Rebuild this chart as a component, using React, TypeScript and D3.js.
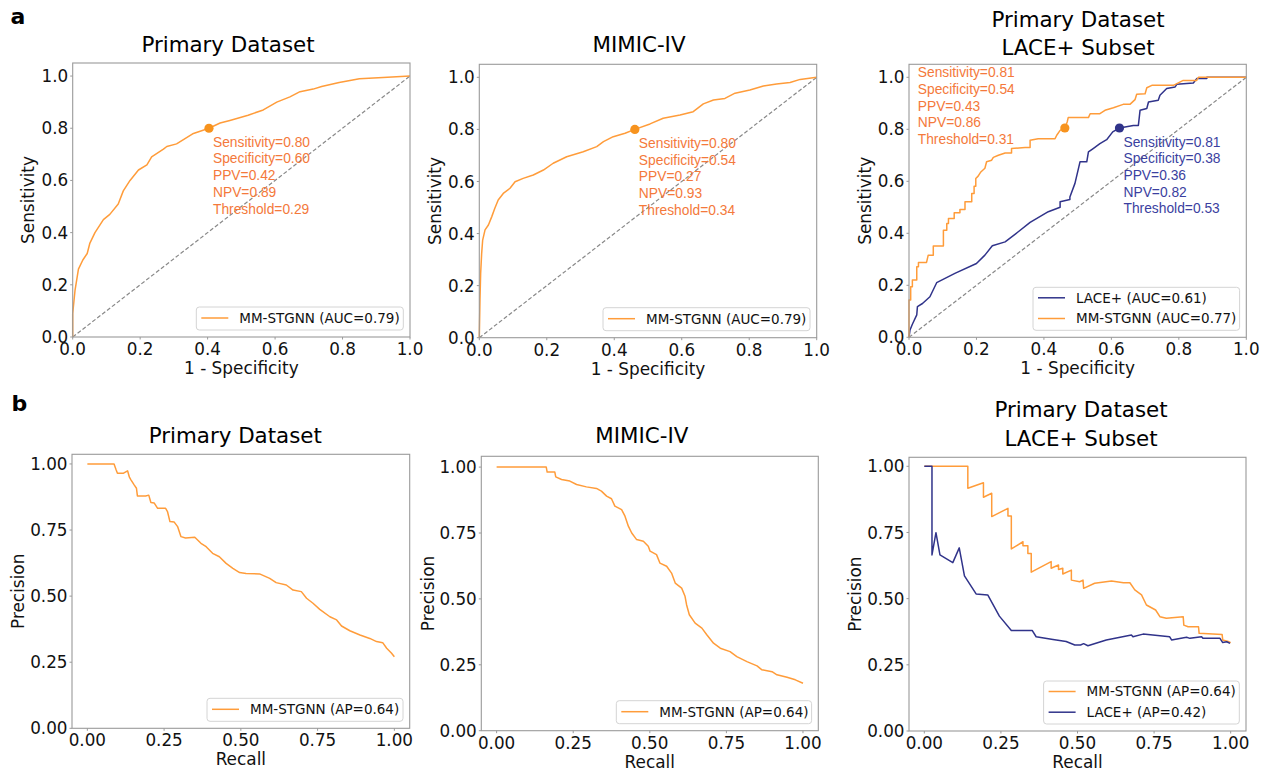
import * as d3 from "d3";

type Pt = [number, number];

// ---- data ----

const rocPrimaryMM: Pt[] = [
  [0, 0], [0, 0.09], [0.007, 0.18], [0.017, 0.26], [0.03, 0.295], [0.043, 0.32], [0.051, 0.36],
  [0.066, 0.4], [0.091, 0.45], [0.11, 0.47], [0.135, 0.51], [0.15, 0.56], [0.17, 0.6], [0.195, 0.64],
  [0.22, 0.66], [0.234, 0.69], [0.269, 0.72], [0.279, 0.73], [0.308, 0.74], [0.358, 0.78], [0.404, 0.8],
  [0.437, 0.82], [0.466, 0.83], [0.52, 0.85], [0.565, 0.87], [0.605, 0.9], [0.644, 0.92], [0.674, 0.94],
  [0.713, 0.95], [0.738, 0.96], [0.79, 0.975], [0.85, 0.99], [0.92, 0.994], [1, 1],
];

const rocMimicMM: Pt[] = [
  [0, 0], [0.002, 0.145], [0.004, 0.247], [0.007, 0.324], [0.01, 0.375], [0.017, 0.414], [0.027, 0.433],
  [0.037, 0.465], [0.046, 0.497], [0.056, 0.529], [0.071, 0.554], [0.091, 0.574], [0.106, 0.599],
  [0.13, 0.612], [0.16, 0.625], [0.19, 0.644], [0.219, 0.67], [0.259, 0.695], [0.308, 0.714],
  [0.348, 0.734], [0.368, 0.753], [0.397, 0.772], [0.432, 0.785], [0.461, 0.8], [0.506, 0.821],
  [0.545, 0.843], [0.595, 0.855], [0.634, 0.868], [0.664, 0.898], [0.694, 0.913], [0.728, 0.919],
  [0.758, 0.939], [0.802, 0.951], [0.842, 0.967], [0.881, 0.974], [0.921, 0.98], [0.951, 0.992], [1, 1],
];

const rocLaceMM: Pt[] = [
  [0, 0], [0, 0.143], [0.005, 0.143], [0.005, 0.194], [0.01, 0.194], [0.01, 0.22], [0.023, 0.22],
  [0.023, 0.271], [0.028, 0.271], [0.028, 0.288], [0.052, 0.288], [0.057, 0.316], [0.072, 0.316],
  [0.072, 0.351], [0.102, 0.351], [0.102, 0.412], [0.112, 0.412], [0.112, 0.438], [0.117, 0.438],
  [0.117, 0.457], [0.134, 0.457], [0.134, 0.479], [0.151, 0.479], [0.151, 0.492], [0.166, 0.492],
  [0.166, 0.521], [0.186, 0.521], [0.186, 0.553], [0.193, 0.553], [0.193, 0.581], [0.198, 0.581],
  [0.198, 0.611], [0.205, 0.62], [0.213, 0.636], [0.225, 0.65], [0.23, 0.675], [0.245, 0.681],
  [0.25, 0.692], [0.265, 0.7], [0.285, 0.709], [0.304, 0.709], [0.304, 0.726], [0.344, 0.73],
  [0.359, 0.73], [0.359, 0.758], [0.383, 0.764], [0.433, 0.764], [0.438, 0.777], [0.448, 0.796],
  [0.462, 0.805], [0.469, 0.828], [0.472, 0.845], [0.532, 0.845], [0.537, 0.86], [0.566, 0.86],
  [0.581, 0.873], [0.606, 0.883], [0.635, 0.896], [0.655, 0.896], [0.67, 0.914], [0.675, 0.935],
  [0.7, 0.937], [0.705, 0.96], [0.72, 0.969], [0.784, 0.969], [0.813, 0.988], [0.853, 0.988],
  [0.858, 1], [1, 1],
];

const rocLaceLace: Pt[] = [
  [0, 0], [0.003, 0.028], [0.01, 0.05], [0.023, 0.086], [0.025, 0.118], [0.04, 0.13], [0.062, 0.156],
  [0.082, 0.21], [0.136, 0.246], [0.2, 0.284], [0.225, 0.316], [0.247, 0.352], [0.285, 0.367],
  [0.324, 0.406], [0.359, 0.442], [0.413, 0.483], [0.448, 0.5], [0.448, 0.521], [0.477, 0.53],
  [0.477, 0.54], [0.492, 0.592], [0.507, 0.675], [0.527, 0.675], [0.532, 0.713], [0.546, 0.726],
  [0.566, 0.745], [0.586, 0.76], [0.604, 0.79], [0.624, 0.805], [0.665, 0.815], [0.68, 0.815],
  [0.685, 0.873], [0.705, 0.88], [0.71, 0.905], [0.739, 0.912], [0.744, 0.931], [0.764, 0.957],
  [0.789, 0.963], [0.794, 0.973], [0.843, 0.978], [0.853, 0.995], [0.883, 0.995], [0.883, 1], [1, 1],
];

const prPrimaryMM: Pt[] = [
  [0, 1], [0.087, 1], [0.093, 0.98], [0.098, 0.965], [0.118, 0.965], [0.131, 0.974], [0.137, 0.95],
  [0.142, 0.94], [0.153, 0.92], [0.16, 0.908], [0.163, 0.879], [0.19, 0.879], [0.2, 0.882],
  [0.207, 0.854], [0.218, 0.852], [0.229, 0.832], [0.255, 0.832], [0.261, 0.82], [0.269, 0.782],
  [0.283, 0.78], [0.294, 0.763], [0.305, 0.725], [0.32, 0.72], [0.35, 0.723], [0.37, 0.7],
  [0.387, 0.687], [0.408, 0.662], [0.43, 0.649], [0.452, 0.624], [0.474, 0.605], [0.496, 0.589],
  [0.517, 0.586], [0.561, 0.584], [0.594, 0.567], [0.615, 0.551], [0.648, 0.542], [0.67, 0.523],
  [0.697, 0.517], [0.714, 0.492], [0.735, 0.473], [0.757, 0.45], [0.79, 0.422], [0.812, 0.41],
  [0.828, 0.387], [0.855, 0.369], [0.888, 0.353], [0.92, 0.34], [0.942, 0.328], [0.962, 0.324],
  [0.975, 0.303], [0.991, 0.284], [1, 0.271],
];

const prMimicMM: Pt[] = [
  [0, 1], [0.162, 1], [0.165, 0.981], [0.19, 0.981], [0.193, 0.963], [0.212, 0.953], [0.239, 0.947],
  [0.261, 0.934], [0.293, 0.925], [0.326, 0.919], [0.342, 0.909], [0.359, 0.89], [0.375, 0.88],
  [0.386, 0.852], [0.408, 0.839], [0.419, 0.814], [0.43, 0.776], [0.441, 0.75], [0.457, 0.725],
  [0.479, 0.719], [0.495, 0.7], [0.501, 0.681], [0.522, 0.668], [0.533, 0.636], [0.555, 0.624],
  [0.571, 0.598], [0.583, 0.56], [0.604, 0.541], [0.615, 0.51], [0.62, 0.478], [0.629, 0.44],
  [0.648, 0.408], [0.67, 0.389], [0.686, 0.364], [0.708, 0.332], [0.73, 0.313], [0.762, 0.3],
  [0.784, 0.281], [0.817, 0.262], [0.85, 0.246], [0.866, 0.231], [0.899, 0.224], [0.915, 0.212],
  [0.948, 0.203], [0.975, 0.193], [1, 0.18],
];

const prLaceMM: Pt[] = [
  [0, 1], [0.142, 1], [0.142, 0.917], [0.193, 0.938], [0.193, 0.883], [0.22, 0.898], [0.22, 0.81],
  [0.273, 0.841], [0.273, 0.812], [0.284, 0.812], [0.284, 0.688], [0.322, 0.715], [0.322, 0.7],
  [0.338, 0.7], [0.338, 0.671], [0.349, 0.671], [0.349, 0.6], [0.414, 0.64], [0.414, 0.615],
  [0.438, 0.627], [0.438, 0.61], [0.452, 0.615], [0.452, 0.593], [0.48, 0.608], [0.48, 0.57],
  [0.507, 0.564], [0.518, 0.57], [0.52, 0.539], [0.556, 0.558], [0.611, 0.567], [0.65, 0.56],
  [0.671, 0.56], [0.687, 0.533], [0.709, 0.514], [0.725, 0.476], [0.755, 0.457], [0.769, 0.432],
  [0.79, 0.426], [0.845, 0.432], [0.847, 0.4], [0.861, 0.394], [0.895, 0.394], [0.897, 0.369],
  [0.972, 0.365], [0.974, 0.344], [0.992, 0.338], [1, 0.334],
];

const prLaceLace: Pt[] = [
  [0, 1], [0.025, 1], [0.025, 0.665], [0.038, 0.749], [0.051, 0.665], [0.093, 0.636], [0.114, 0.692],
  [0.131, 0.586], [0.169, 0.518], [0.207, 0.514], [0.245, 0.434], [0.284, 0.38], [0.352, 0.38],
  [0.365, 0.356], [0.42, 0.346], [0.463, 0.338], [0.491, 0.325], [0.51, 0.325], [0.52, 0.33],
  [0.534, 0.322], [0.594, 0.344], [0.676, 0.363], [0.681, 0.356], [0.714, 0.366], [0.801, 0.356],
  [0.807, 0.344], [0.856, 0.354], [0.867, 0.35], [0.905, 0.356], [0.91, 0.35], [0.965, 0.35],
  [0.974, 0.334], [0.987, 0.337], [0.998, 0.331],
];

// operating points and their annotations
const opPrimary: Pt = [0.404, 0.8];
const opMimic: Pt = [0.461, 0.8];
const opLaceMM: Pt = [0.462, 0.805];
const opLaceLace: Pt = [0.624, 0.805];

const notePrimary = ["Sensitivity=0.80", "Specificity=0.60", "PPV=0.42", "NPV=0.89", "Threshold=0.29"];
const noteMimic = ["Sensitivity=0.80", "Specificity=0.54", "PPV=0.27", "NPV=0.93", "Threshold=0.34"];
const noteLaceMM = ["Sensitivity=0.81", "Specificity=0.54", "PPV=0.43", "NPV=0.86", "Threshold=0.31"];
const noteLaceLace = ["Sensitivity=0.81", "Specificity=0.38", "PPV=0.36", "NPV=0.82", "Threshold=0.53"];
const noteLaceMMAt: Pt = [0.026, 1.0];

const rocTicks = [0, 0.2, 0.4, 0.6, 0.8, 1.0];
const prTicks = [0, 0.25, 0.5, 0.75, 1.0];

// ---- styling ----
const ORANGE = "#ff9c3a";
const ORANGE_TEXT = "#f4793b";
const ORANGE_DOT = "#f7931e";
const NAVY = "#30338a";
const NAVY_TEXT = "#3b3fa0";
const FRAME = "#9a9a9a";
const FONT = "DejaVu Sans, sans-serif";
const NOTE_FONT = "Liberation Sans, Arial, sans-serif";

type Series = { data: Pt[]; color: string };
type Note = { point: Pt; lines: string[]; color: string; dot: string; at?: Pt };
type PanelCfg = {
  left: number; right: number; top: number; bottom: number;
  xDomain: [number, number]; yDomain: [number, number];
  ticks: number[]; fmt: (n: number) => string;
  titles: { text: string; x: number; y: number }[];
  xLabel: string; yLabel: string; yLabelX: number;
  series: Series[];
  legend: { labels: string[]; colors: string[]; width: number };
  notes: Note[];
  diagonal: boolean;
};

function Panel({ c }: { c: PanelCfg }) {
  const x = d3.scaleLinear().domain(c.xDomain).range([c.left, c.right]);
  const y = d3.scaleLinear().domain(c.yDomain).range([c.bottom, c.top]);
  const line = d3.line<Pt>().x((d) => x(d[0])).y((d) => y(d[1]));
  const n = c.legend.labels.length;
  const lh = n === 1 ? 23 : 43;
  const lx = c.right - 6.7 - c.legend.width;
  const ly = c.bottom - 7 - lh;
  const rowY = (i: number) => (n === 1 ? ly + 11 : ly + 10.5 + i * 20.7);
  return (
    <g>
      <rect x={c.left} y={c.top} width={c.right - c.left} height={c.bottom - c.top} fill="#fff" />
      {c.diagonal && (
        <line x1={x(0)} y1={y(0)} x2={x(1)} y2={y(1)} stroke="#888" strokeWidth={1.2} strokeDasharray="4,2.2" />
      )}
      {c.series.map((s, i) => (
        <path key={i} d={line(s.data) ?? ""} fill="none" stroke={s.color} strokeWidth={1.5} strokeLinejoin="round" />
      ))}
      {c.notes.map((nt, i) => {
        const px = x(nt.point[0]);
        const py = y(nt.point[1]);
        const tx = nt.at ? x(nt.at[0]) : px + 4;
        const ty = nt.at ? y(nt.at[1]) : py + 18.5;
        return (
          <g key={i}>
            <circle cx={px} cy={py} r={4.6} fill={nt.dot} />
            <text x={tx} y={ty} fill={nt.color} fontFamily={NOTE_FONT} fontSize={13.8}>
              {nt.lines.map((t, k) => (
                <tspan key={k} x={tx} y={ty + k * 16.7}>{t}</tspan>
              ))}
            </text>
          </g>
        );
      })}
      <rect x={c.left} y={c.top} width={c.right - c.left} height={c.bottom - c.top} fill="none" stroke={FRAME} strokeWidth={1.1} />
      {c.ticks.map((t) => (
        <g key={"x" + t}>
          <line x1={x(t)} x2={x(t)} y1={c.bottom} y2={c.bottom + 2.5} stroke={FRAME} />
          <text x={x(t)} y={c.bottom + 18} textAnchor="middle" fontFamily={FONT} fontSize={16.8} fill="#111">{c.fmt(t)}</text>
        </g>
      ))}
      {c.ticks.map((t) => (
        <g key={"y" + t}>
          <line x1={c.left - 2.5} x2={c.left} y1={y(t)} y2={y(t)} stroke={FRAME} />
          <text x={c.left - 4.5} y={y(t)} dy="0.36em" textAnchor="end" fontFamily={FONT} fontSize={16.8} fill="#111">{c.fmt(t)}</text>
        </g>
      ))}
      <text x={(c.left + c.right) / 2} y={c.bottom + 37} textAnchor="middle" fontFamily={FONT} fontSize={16.9} fill="#111">{c.xLabel}</text>
      <text transform={`translate(${c.yLabelX},${(c.top + c.bottom) / 2}) rotate(-90)`} textAnchor="middle" fontFamily={FONT} fontSize={16.9} fill="#111">{c.yLabel}</text>
      {c.titles.map((t, i) => (
        <text key={i} x={t.x} y={t.y} textAnchor="middle" fontFamily={FONT} fontSize={21.4} fill="#000">{t.text}</text>
      ))}
      <rect x={lx} y={ly} width={c.legend.width} height={lh} rx={3} fill="#fff" fillOpacity={0.8} stroke="#d4d4d4" strokeWidth={1} />
      {c.legend.labels.map((lab, i) => (
        <g key={lab}>
          <line x1={lx + 5} x2={lx + 32} y1={rowY(i)} y2={rowY(i)} stroke={c.legend.colors[i]} strokeWidth={1.5} />
          <text x={lx + 43} y={rowY(i)} dy="0.36em" fontFamily={FONT} fontSize={13.5} fill="#111">{lab}</text>
        </g>
      ))}
    </g>
  );
}

const f1 = d3.format(".1f");
const f2 = d3.format(".2f");

const panels: PanelCfg[] = [
  {
    left: 72.7, right: 410, top: 63, bottom: 337, xDomain: [0, 1], yDomain: [0, 1.05], ticks: rocTicks, fmt: f1,
    titles: [{ text: "Primary Dataset", x: 228, y: 52 }],
    xLabel: "1 - Specificity", yLabel: "Sensitivity", yLabelX: 34,
    series: [{ data: rocPrimaryMM, color: ORANGE }],
    legend: { labels: ["MM-STGNN (AUC=0.79)"], colors: [ORANGE], width: 207 },
    notes: [{ point: opPrimary, lines: notePrimary, color: ORANGE_TEXT, dot: ORANGE_DOT }],
    diagonal: true,
  },
  {
    left: 479.3, right: 816.7, top: 64.3, bottom: 337.7, xDomain: [0, 1], yDomain: [0, 1.05], ticks: rocTicks, fmt: f1,
    titles: [{ text: "MIMIC-IV", x: 639, y: 52 }],
    xLabel: "1 - Specificity", yLabel: "Sensitivity", yLabelX: 441,
    series: [{ data: rocMimicMM, color: ORANGE }],
    legend: { labels: ["MM-STGNN (AUC=0.79)"], colors: [ORANGE], width: 207 },
    notes: [{ point: opMimic, lines: noteMimic, color: ORANGE_TEXT, dot: ORANGE_DOT }],
    diagonal: true,
  },
  {
    left: 909, right: 1246.3, top: 64.3, bottom: 337.3, xDomain: [0, 1], yDomain: [0, 1.05], ticks: rocTicks, fmt: f1,
    titles: [{ text: "Primary Dataset", x: 1078, y: 27 }, { text: "LACE+ Subset", x: 1078, y: 55 }],
    xLabel: "1 - Specificity", yLabel: "Sensitivity", yLabelX: 871,
    series: [{ data: rocLaceLace, color: NAVY }, { data: rocLaceMM, color: ORANGE }],
    legend: { labels: ["LACE+ (AUC=0.61)", "MM-STGNN (AUC=0.77)"], colors: [NAVY, ORANGE], width: 206.6 },
    notes: [
      { point: opLaceLace, lines: noteLaceLace, color: NAVY_TEXT, dot: NAVY },
      { point: opLaceMM, lines: noteLaceMM, color: ORANGE_TEXT, dot: ORANGE_DOT, at: noteLaceMMAt },
    ],
    diagonal: true,
  },
  {
    left: 72, right: 409.7, top: 454.3, bottom: 728.3, xDomain: [-0.05, 1.05], yDomain: [0, 1.0365], ticks: prTicks, fmt: f2,
    titles: [{ text: "Primary Dataset", x: 235.3, y: 443.3 }],
    xLabel: "Recall", yLabel: "Precision", yLabelX: 24,
    series: [{ data: prPrimaryMM, color: ORANGE }],
    legend: { labels: ["MM-STGNN (AP=0.64)"], colors: [ORANGE], width: 196 },
    notes: [],
    diagonal: false,
  },
  {
    left: 481.3, right: 818.3, top: 456.3, bottom: 730.7, xDomain: [-0.05, 1.05], yDomain: [0, 1.041], ticks: prTicks, fmt: f2,
    titles: [{ text: "MIMIC-IV", x: 641.8, y: 443 }],
    xLabel: "Recall", yLabel: "Precision", yLabelX: 434,
    series: [{ data: prMimicMM, color: ORANGE }],
    legend: { labels: ["MM-STGNN (AP=0.64)"], colors: [ORANGE], width: 195.3 },
    notes: [],
    diagonal: false,
  },
  {
    left: 909, right: 1246, top: 457.3, bottom: 731, xDomain: [-0.05, 1.05], yDomain: [0, 1.034], ticks: prTicks, fmt: f2,
    titles: [{ text: "Primary Dataset", x: 1081, y: 417.3 }, { text: "LACE+ Subset", x: 1081, y: 446 }],
    xLabel: "Recall", yLabel: "Precision", yLabelX: 861,
    series: [{ data: prLaceMM, color: ORANGE }, { data: prLaceLace, color: NAVY }],
    legend: { labels: ["MM-STGNN (AP=0.64)", "LACE+ (AP=0.42)"], colors: [ORANGE, NAVY], width: 195.7 },
    notes: [],
    diagonal: false,
  },
];

export default function App() {
  return (
    <svg width={1271} height={771} style={{ position: "absolute", left: 0, top: 0, background: "#fff" }}>
      <rect width={1271} height={771} fill="#fff" />
      <text x={10.5} y={24} fontFamily={FONT} fontWeight="bold" fontSize={22} fill="#000">a</text>
      <text x={11.5} y={410.5} fontFamily={FONT} fontWeight="bold" fontSize={22} fill="#000">b</text>
      {panels.map((p, i) => (
        <Panel key={i} c={p} />
      ))}
    </svg>
  );
}
